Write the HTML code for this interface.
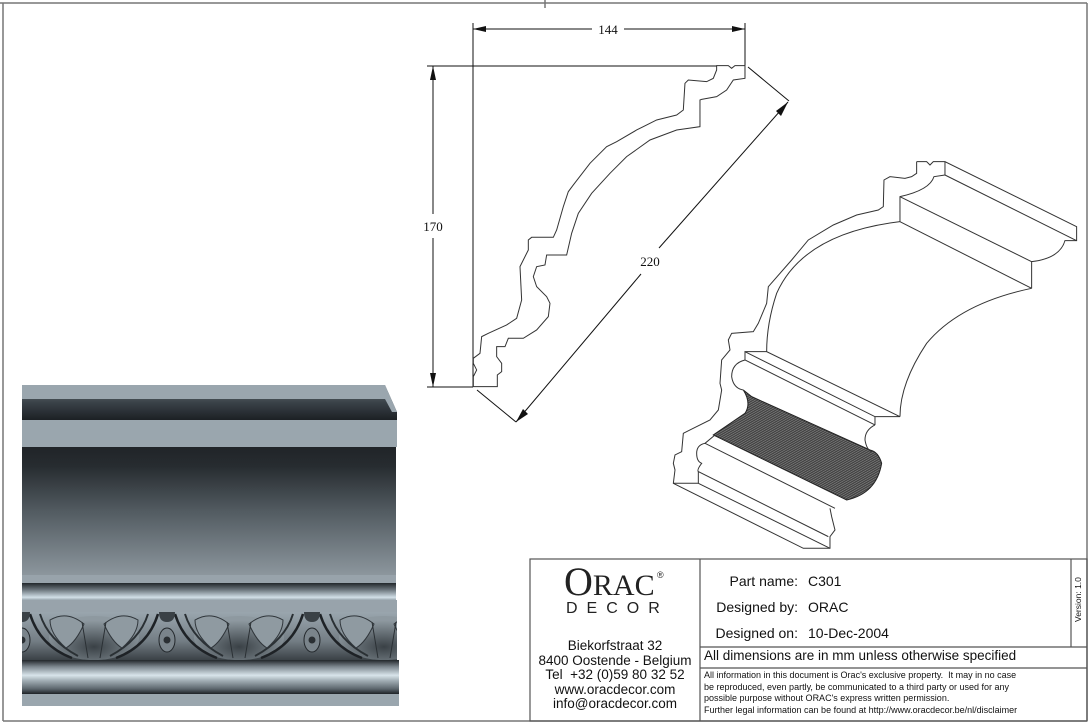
<!DOCTYPE html>
<html><head><meta charset="utf-8"><style>
html,body{margin:0;padding:0;background:#fff;}
body{width:1091px;height:727px;position:relative;overflow:hidden;font-family:"Liberation Sans",sans-serif;}
svg{position:absolute;left:0;top:0;}
.t{position:absolute;white-space:nowrap;color:#111;}
</style></head><body>
<svg width="1091" height="727" viewBox="0 0 1091 727">
<defs>
<linearGradient id="g1" x1="0" y1="0" x2="0" y2="1"><stop offset="0" stop-color="#6a747b"/><stop offset="0.5" stop-color="#3a4248"/><stop offset="1" stop-color="#1c2024"/></linearGradient>
<linearGradient id="g2" x1="0" y1="0" x2="0" y2="1"><stop offset="0" stop-color="#202428"/><stop offset="0.15" stop-color="#272c30"/><stop offset="0.5" stop-color="#525b61"/><stop offset="1" stop-color="#8c969d"/></linearGradient>
<linearGradient id="g3" x1="0" y1="0" x2="0" y2="1"><stop offset="0" stop-color="#22272b"/><stop offset="0.4" stop-color="#6c767d"/><stop offset="0.85" stop-color="#d2e0e8"/><stop offset="1" stop-color="#9aa6ae"/></linearGradient>
<linearGradient id="g4" x1="0" y1="0" x2="0" y2="1"><stop offset="0" stop-color="#22272b"/><stop offset="0.2" stop-color="#7e8890"/><stop offset="0.45" stop-color="#d8e4ea"/><stop offset="0.6" stop-color="#a4b0b7"/><stop offset="0.85" stop-color="#5c666d"/><stop offset="1" stop-color="#1e2226"/></linearGradient>
<linearGradient id="g5" x1="0" y1="0" x2="0" y2="1"><stop offset="0" stop-color="#9aa6ae"/><stop offset="0.6" stop-color="#747e85"/><stop offset="1" stop-color="#3a4146"/></linearGradient>
<radialGradient id="rg" cx="0.5" cy="0.7" r="0.6"><stop offset="0" stop-color="#3a4146"/><stop offset="1" stop-color="#8e99a0"/></radialGradient>
<pattern id="orn" x="22" y="612" width="145" height="48" patternUnits="userSpaceOnUse">
<rect width="145" height="48" fill="url(#g5)"/>
<ellipse cx="72" cy="26" rx="45" ry="22" fill="url(#rg)"/>
<path d="M8 2 Q18 34 50 46" stroke="#1e2226" stroke-width="2.5" fill="none"/>
<path d="M18 2 Q26 28 56 44" stroke="#2a3034" stroke-width="2" fill="none"/>
<path d="M136 2 Q126 34 94 46" stroke="#1e2226" stroke-width="2.5" fill="none"/>
<path d="M126 2 Q118 28 88 44" stroke="#2a3034" stroke-width="2" fill="none"/>
<path d="M28 8 Q45 -2 62 12 Q54 30 44 36 Q28 22 28 8Z" fill="#8f9aa1" stroke="#2f353a"/>
<path d="M116 8 Q99 -2 82 12 Q90 30 100 36 Q116 22 116 8Z" fill="#8f9aa1" stroke="#2f353a"/>
<line x1="60" y1="10" x2="66" y2="46" stroke="#2a3034"/><line x1="84" y1="10" x2="78" y2="46" stroke="#2a3034"/>
<path d="M-8 0 Q-8 10 0 10 Q8 10 8 0" fill="#3a4146"/><path d="M137 0 Q137 10 145 10 Q153 10 153 0" fill="#3a4146"/>
<ellipse cx="0" cy="28" rx="8" ry="12" fill="#7a848b" stroke="#22272b"/>
<ellipse cx="145" cy="28" rx="8" ry="12" fill="#7a848b" stroke="#22272b"/>
<circle cx="0" cy="28" r="3.5" fill="#2a2f33"/><circle cx="145" cy="28" r="3.5" fill="#2a2f33"/>
</pattern>
<pattern id="hatch" width="6" height="6" patternUnits="userSpaceOnUse" patternTransform="rotate(60)"><rect width="6" height="6" fill="#444"/><line x1="0" y1="0" x2="0" y2="6" stroke="#ddd" stroke-width="1.5"/></pattern>
</defs>
<g stroke="#777" stroke-width="1.5" fill="none">
<line x1="0" y1="3" x2="1087" y2="3"/>
<line x1="3" y1="3" x2="3" y2="721"/>
<line x1="1087" y1="3" x2="1087" y2="721"/>
<line x1="3" y1="721" x2="1087" y2="721"/>
<line x1="545" y1="0" x2="545" y2="8"/>
</g>
<polygon points="22,385 385,385 397,412 397,420 22,420" fill="url(#g1)"/>
<rect x="22" y="385" width="363" height="14" fill="#9aa6ae"/>
<polygon points="385,385 397,412 392,412 385,399" fill="#9aa6ae"/>
<rect x="22" y="420" width="375" height="27" fill="#9aa6ae"/>
<rect x="22" y="447" width="374" height="128" fill="url(#g2)"/>
<rect x="22" y="575" width="374" height="8" fill="#98a3ab"/>
<rect x="22" y="583" width="374" height="17" fill="url(#g3)"/>
<rect x="22" y="600" width="375" height="12" fill="#98a3ab"/>
<rect x="22" y="612" width="375" height="48" fill="url(#orn)"/>
<rect x="22" y="660" width="377" height="34" fill="url(#g4)"/>
<rect x="22" y="694" width="377" height="12" fill="#9aa6ae"/>
<g stroke="#111" stroke-width="1" fill="none">
<line x1="473" y1="23" x2="473" y2="387"/>
<line x1="745" y1="23" x2="745" y2="78"/>
<line x1="473" y1="29" x2="592" y2="29"/><line x1="624" y1="29" x2="745" y2="29"/>
<line x1="427" y1="66" x2="717" y2="66"/>
<line x1="427" y1="387" x2="473" y2="387"/>
<line x1="433" y1="66" x2="433" y2="214"/><line x1="433" y1="238" x2="433" y2="387"/>
<line x1="748" y1="67" x2="789" y2="101"/>
<line x1="477" y1="390" x2="516" y2="422"/>
<line x1="788" y1="102" x2="659" y2="248"/><line x1="641" y1="274" x2="516" y2="422"/>
</g>
<g fill="#111">
<polygon points="473,29 486,26 486,32"/><polygon points="745,29 732,26 732,32"/>
<polygon points="433,66 430,80 436,80"/><polygon points="433,387 430,373 436,373"/>
<polygon points="788,102 776,111 781,116"/><polygon points="516,422 523,409 528,414"/>
</g>
<g font-family="Liberation Serif,serif" font-size="13" fill="#111" text-anchor="middle">
<text x="608" y="34">144</text><text x="433" y="231">170</text><text x="650" y="266">220</text>
</g>
<g transform="translate(410,0) scale(0.3333)">
<path vector-effect="non-scaling-stroke" stroke="#333" stroke-width="1" fill="none" d="M190,1160 L190,1130 L200,1110 L190,1090 L190,1075 L210,1060 L215,1010 L235,1000 L290,975 L320,955 L335,900 L330,800 L355,750 L355,720 L365,712 L430,712 L440,690 L460,620 L475,575 L490,555 L540,490 L590,440 L620,425 L680,390 L740,360 L800,345 L820,330 L825,250 L835,240 L890,245 L910,235 L920,210 L920,197 L955,197 L965,205 L975,197 L1005,197 L1005,235 L970,240 L950,270 L920,290 L875,298 L870,300 L870,380 L800,390 L720,420 L650,470 L600,520 L545,580 L505,640 L485,700 L470,765 L410,765 L405,795 L380,800 L370,830 L380,860 L410,890 L420,910 L415,950 L380,990 L340,1015 L295,1015 L285,1040 L260,1040 L260,1070 L275,1090 L275,1115 L262,1125 L262,1160 Z"/>
</g>
<g transform="translate(660,150) scale(0.3333)">
<path d="M250,720 Q275,760 255,790 L160,855 L560,1050 Q650,1030 665,940 Q655,905 630,900 L275,740 Z" fill="url(#hatch)" stroke="#222" stroke-width="3"/>
<g stroke="#333" stroke-width="3" fill="none">
<path d="M770,35 L800,35 L810,45 L820,35 L855,35 L1250,230 L1250,272 L1215,272 Q1200,325 1115,335 L1115,415"/>
<path d="M770,35 L770,70 L755,80 L735,85 L690,80 L672,90 L670,170 L655,180 L590,195 L520,225 L445,270 L395,330 L325,410 L320,460 L295,520 L280,545 L215,550 L205,570 L210,600 L185,630 L180,700 L185,720 L175,780 L150,810 L90,840 L70,850 L65,905 L45,915 L40,940 L45,960 L40,1000 L430,1195 L510,1195 L510,1160 L525,1140 L515,1100 L510,1075"/>
<line x1="855" y1="35" x2="855" y2="75"/>
<line x1="855" y1="75" x2="1250" y2="272"/>
<path d="M855,75 L822,80 Q810,120 720,140 L720,215"/>
<line x1="720" y1="140" x2="1115" y2="335"/>
<line x1="720" y1="215" x2="1115" y2="415"/>
<path d="M720,215 Q430,250 350,430 Q320,520 320,605"/>
<path d="M1115,415 Q900,460 800,580 Q720,700 720,800"/>
<path d="M255,605 L320,605 L720,800 L645,800 L255,605 L255,630 L645,825"/>
<path d="M255,630 Q215,640 215,680 Q220,715 250,720"/>
<line x1="645" y1="800" x2="645" y2="825"/>
<path d="M645,825 Q615,840 615,870 Q620,900 635,905"/>
<path d="M165,855 L135,880 L525,1075"/>
<path d="M135,880 Q110,885 110,910 Q110,935 125,940 Q110,960 115,965 L505,1160"/>
<line x1="115" y1="965" x2="115" y2="1000"/>
<line x1="115" y1="1000" x2="510" y2="1195"/>
<line x1="40" y1="1000" x2="115" y2="1000"/>
</g>
</g>
<g stroke="#555" stroke-width="1.2" fill="none">
<rect x="530" y="559" width="557" height="162"/>
<line x1="700" y1="559" x2="700" y2="721"/>
<line x1="1071" y1="559" x2="1071" y2="647"/>
<line x1="700" y1="647" x2="1087" y2="647"/>
<line x1="700" y1="668" x2="1087" y2="668"/>
</g>
</svg>
<div class="t" style="left:564px;top:562px;font-family:'Liberation Serif',serif;font-size:40px;line-height:40px;color:#222;">O<span style="font-size:30px;">RAC</span></div>
<div class="t" style="left:657px;top:570px;font-size:9px;color:#222;">®</div>
<div class="t" style="left:566px;top:600px;font-size:16px;letter-spacing:9px;color:#222;">DECOR</div>
<div class="t" style="left:530px;top:639px;width:170px;text-align:center;font-size:13.5px;line-height:14.6px;">Biekorfstraat 32<br>8400 Oostende - Belgium<br>Tel&nbsp; +32 (0)59 80 32 52<br>www.oracdecor.com<br>info@oracdecor.com</div>
<div class="t" style="left:700px;top:568px;width:98px;text-align:right;font-size:14px;line-height:26px;">Part name:<br>Designed by:<br>Designed on:</div>
<div class="t" style="left:808px;top:568px;font-size:14px;line-height:26px;">C301<br>ORAC<br>10-Dec-2004</div>
<div class="t" style="left:1073px;top:622px;font-size:8.5px;line-height:10px;transform:rotate(-90deg);transform-origin:0 0;">Version: 1.0</div>
<div class="t" style="left:704px;top:648px;font-size:13.5px;">All dimensions are in mm unless otherwise specified</div>
<div class="t" style="left:704px;top:670px;font-size:9px;line-height:11.5px;">All information in this document is Orac's exclusive property.&nbsp; It may in no case<br>be reproduced, even partly, be communicated to a third party or used for any<br>possible purpose without ORAC's express written permission.<br>Further legal information can be found at http://www.oracdecor.be/nl/disclaimer</div>
</body></html>
